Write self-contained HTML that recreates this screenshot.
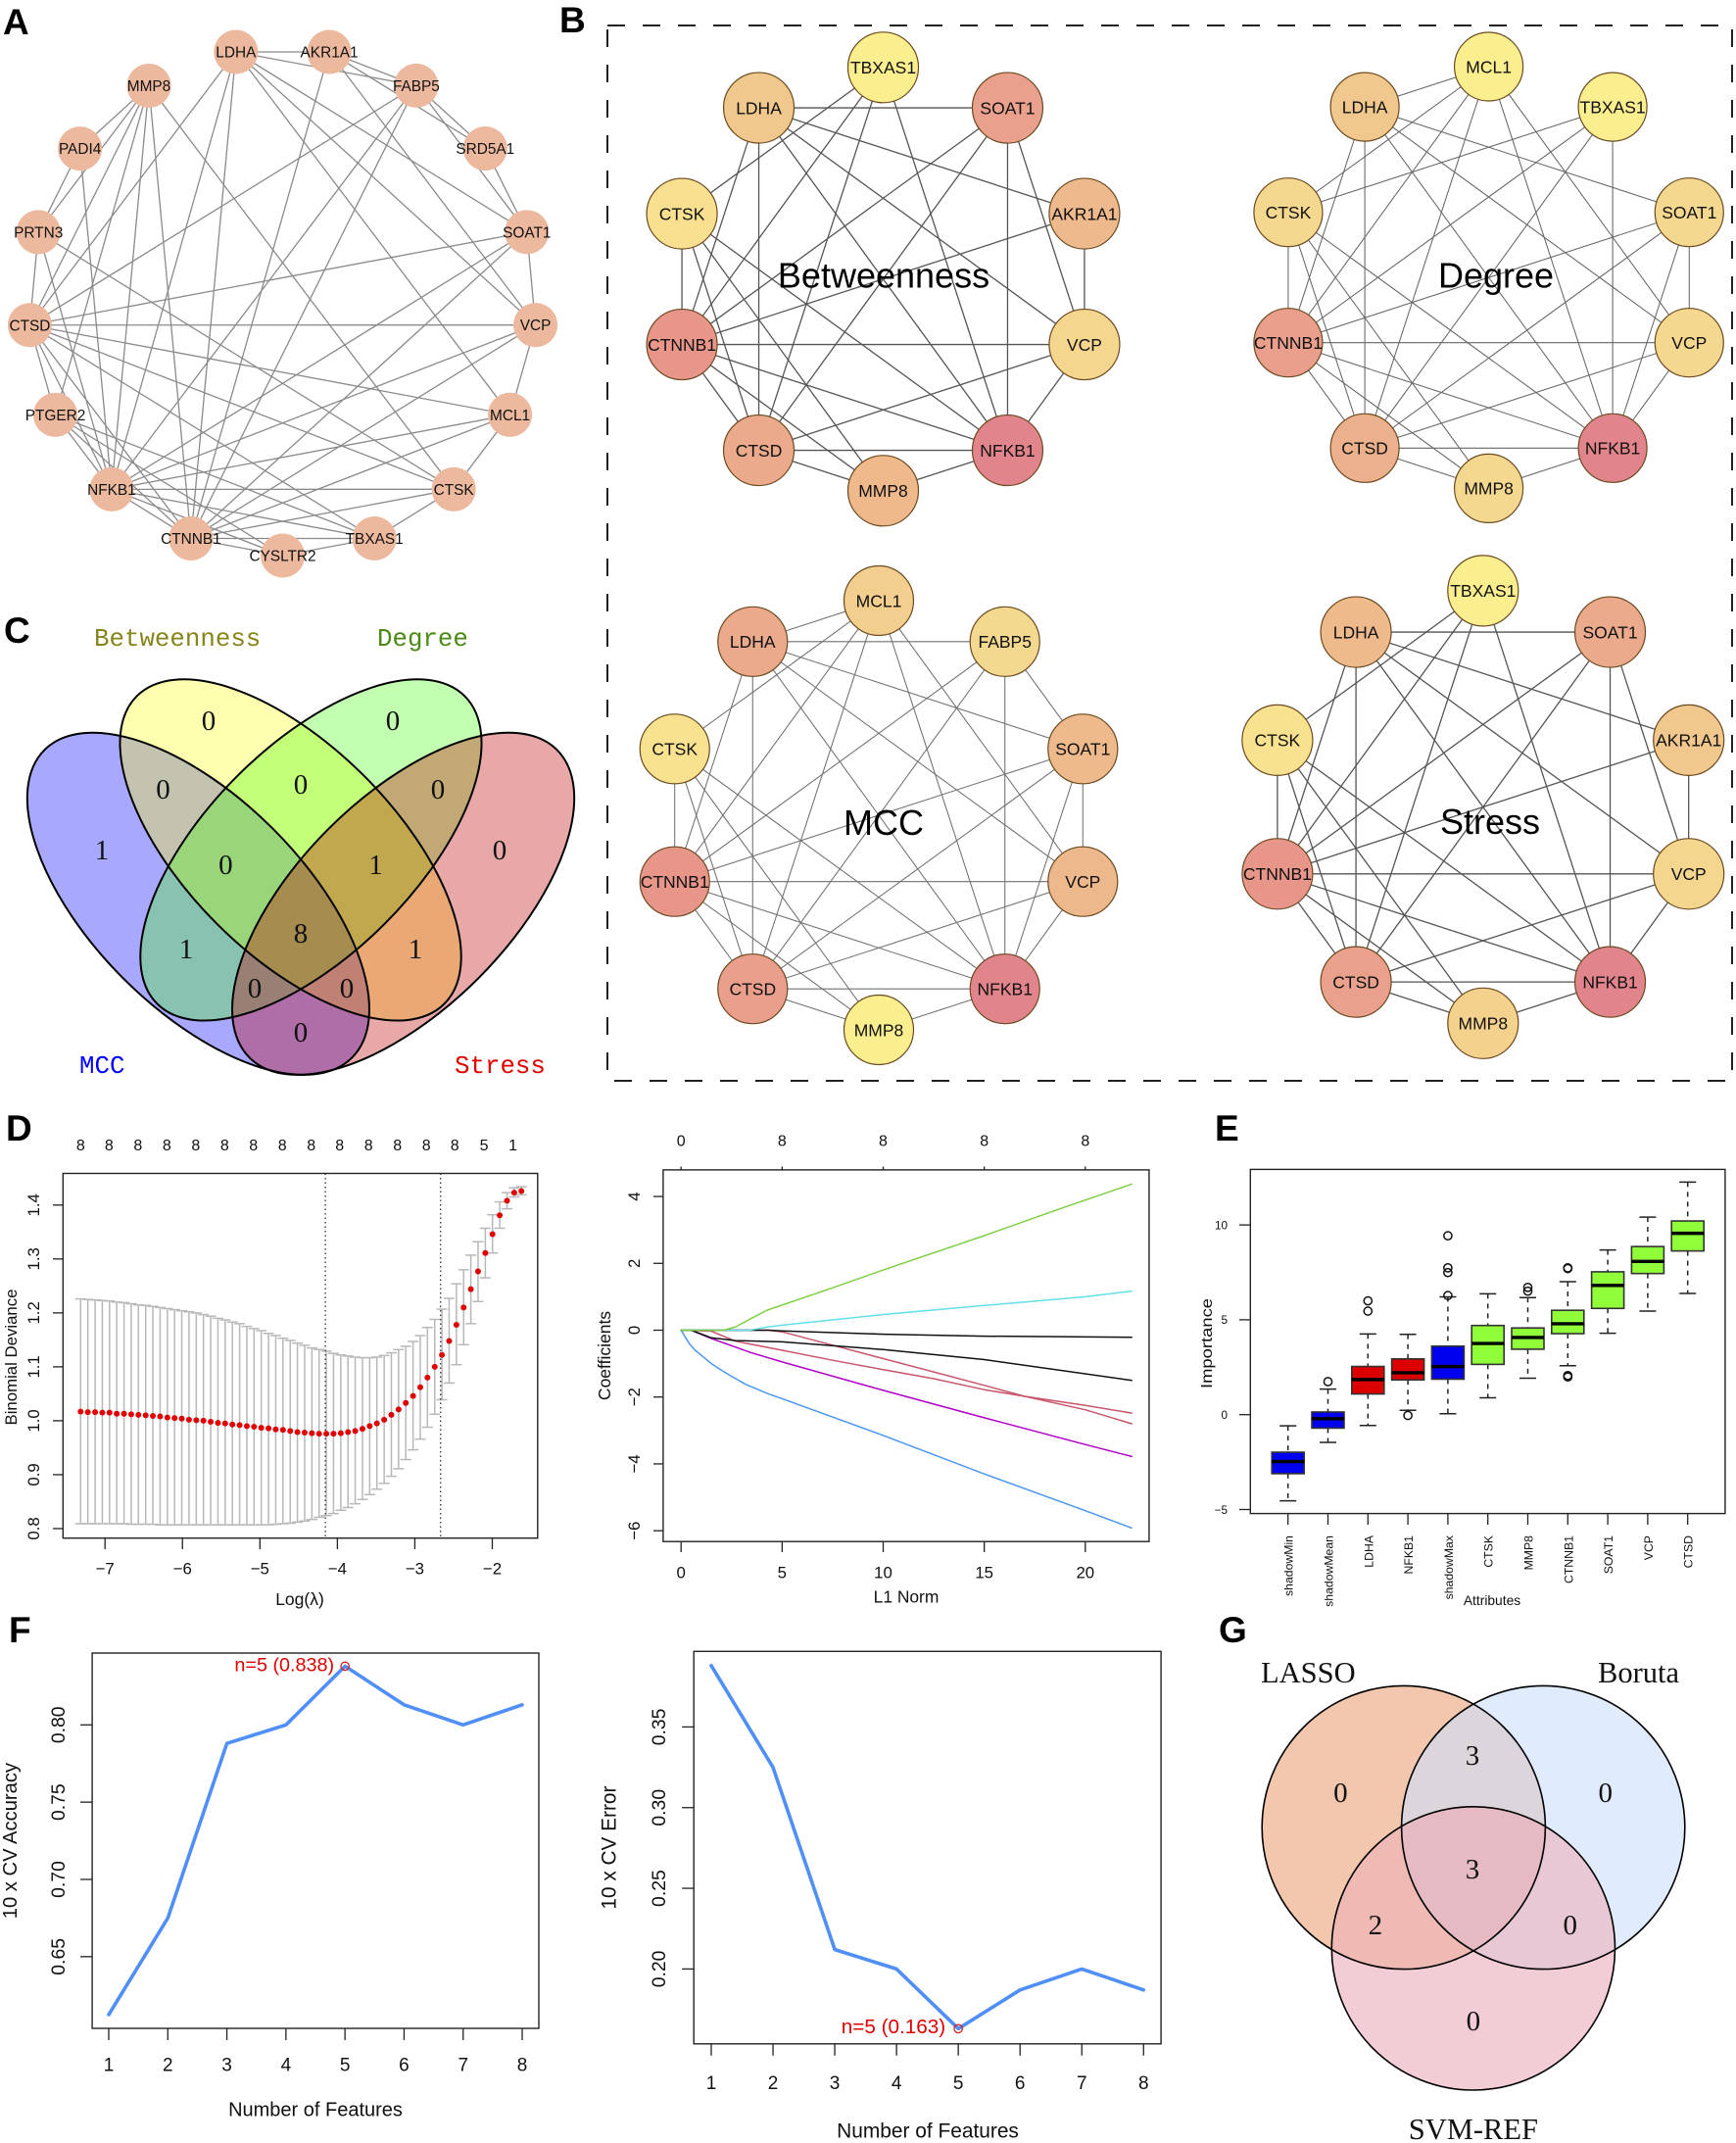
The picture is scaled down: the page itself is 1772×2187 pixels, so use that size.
<!DOCTYPE html>
<html lang="en">
<head>
<meta charset="utf-8">
<title>Hub gene network and feature selection figure</title>
<style>
html,body{margin:0;padding:0;background:#fff;}
svg{display:block;}
text{font-family:"Liberation Sans",Arial,sans-serif;fill:#111;}
.letter{font-size:37px;font-weight:bold;fill:#000;}
.vc{font-family:"Liberation Serif",serif;font-size:29px;text-anchor:middle;fill:#111;}
.vl{font-family:"Liberation Mono",monospace;font-size:25.8px;}
.vg{font-family:"Liberation Serif",serif;font-size:29px;text-anchor:middle;fill:#111;}
.vt{font-family:"Liberation Serif",serif;font-size:30.5px;fill:#111;}
</style>
</head>
<body>
<svg id="figure" xmlns="http://www.w3.org/2000/svg" width="1772" height="2187" viewBox="0 0 1772 2187">
<rect x="0" y="0" width="1772" height="2187" fill="#fff"/>
<text class="letter" x="3" y="35">A</text>
<text class="letter" x="571" y="33">B</text>
<text class="letter" x="4" y="656">C</text>
<text class="letter" x="6" y="1164">D</text>
<text class="letter" x="1240" y="1164">E</text>
<text class="letter" x="9" y="1676">F</text>
<text class="letter" x="1244" y="1676">G</text>

<rect x="620" y="26" width="1148" height="1077" fill="none" stroke="#222" stroke-width="2" stroke-dasharray="18 18"/>

<g id="panelA"></g>
<g id="panelB1"></g>
<g id="panelB2"></g>
<g id="panelB3"></g>
<g id="panelB4"></g>

<g>
  <ellipse cx="202.4" cy="922.3" rx="222" ry="108" transform="rotate(45 202.4 922.3)" fill="rgb(0,0,255)" fill-opacity=".34"/>
  <ellipse cx="296.6" cy="867.4" rx="222" ry="106.5" transform="rotate(45 296.6 867.4)" fill="rgb(255,255,0)" fill-opacity=".31"/>
  <ellipse cx="317.4" cy="867.4" rx="222" ry="106.5" transform="rotate(-45 317.4 867.4)" fill="rgb(60,255,0)" fill-opacity=".31"/>
  <ellipse cx="411.6" cy="922.3" rx="222" ry="108" transform="rotate(-45 411.6 922.3)" fill="rgb(190,0,0)" fill-opacity=".34"/>
  <g fill="none" stroke="#000" stroke-width="2">
    <ellipse cx="202.4" cy="922.3" rx="222" ry="108" transform="rotate(45 202.4 922.3)"/>
    <ellipse cx="296.6" cy="867.4" rx="222" ry="106.5" transform="rotate(45 296.6 867.4)"/>
    <ellipse cx="317.4" cy="867.4" rx="222" ry="106.5" transform="rotate(-45 317.4 867.4)"/>
    <ellipse cx="411.6" cy="922.3" rx="222" ry="108" transform="rotate(-45 411.6 922.3)"/>
  </g>
  <text class="vl" x="96" y="659" style="fill:#85851c">Betweenness</text>
  <text class="vl" x="385" y="659" style="fill:#4a8a14">Degree</text>
  <text class="vl" x="81" y="1095" style="fill:#0000ff">MCC</text>
  <text class="vl" x="464" y="1095" style="fill:#e00000">Stress</text>
  <text class="vc" x="213" y="745">0</text>
  <text class="vc" x="401" y="745">0</text>
  <text class="vc" x="307" y="810">0</text>
  <text class="vc" x="166.5" y="815">0</text>
  <text class="vc" x="447" y="815">0</text>
  <text class="vc" x="104" y="877">1</text>
  <text class="vc" x="510" y="877">0</text>
  <text class="vc" x="230.4" y="892">0</text>
  <text class="vc" x="383.5" y="892">1</text>
  <text class="vc" x="307" y="962">8</text>
  <text class="vc" x="190" y="978">1</text>
  <text class="vc" x="424" y="978">1</text>
  <text class="vc" x="260" y="1018">0</text>
  <text class="vc" x="354" y="1018">0</text>
  <text class="vc" x="307" y="1063">0</text>
</g>

<g id="panelD1"></g>
<g id="panelD2"></g>
<g id="panelE"></g>
<g id="panelF1"></g>
<g id="panelF2"></g>

<defs>
  <clipPath id="clipLasso"><circle cx="1432.8" cy="1865" r="144.6"/></clipPath>
  <clipPath id="clipBoruta"><circle cx="1575.2" cy="1865" r="144.6"/></clipPath>
  <clipPath id="clipSvm"><circle cx="1503.9" cy="1988.4" r="144.6"/></clipPath>
</defs>
<g>
  <circle cx="1432.8" cy="1865" r="144.6" fill="#f2c7ae"/>
  <circle cx="1575.2" cy="1865" r="144.6" fill="#e0ebfd"/>
  <circle cx="1503.9" cy="1988.4" r="144.6" fill="#f3cdd5"/>
  <circle cx="1432.8" cy="1865" r="144.6" fill="#ddd5dc" clip-path="url(#clipBoruta)"/>
  <circle cx="1432.8" cy="1865" r="144.6" fill="#efb9b4" clip-path="url(#clipSvm)"/>
  <circle cx="1575.2" cy="1865" r="144.6" fill="#e8c8d4" clip-path="url(#clipSvm)"/>
  <g clip-path="url(#clipSvm)"><circle cx="1432.8" cy="1865" r="144.6" fill="#e6bac3" clip-path="url(#clipBoruta)"/></g>
  <g fill="none" stroke="#000" stroke-width="1.6">
    <circle cx="1432.8" cy="1865" r="144.6"/>
    <circle cx="1575.2" cy="1865" r="144.6"/>
    <circle cx="1503.9" cy="1988.4" r="144.6"/>
  </g>
  <text class="vt" x="1287" y="1717">LASSO</text>
  <text class="vt" x="1631" y="1717">Boruta</text>
  <text class="vt" x="1503.9" y="2183" text-anchor="middle">SVM-REF</text>
  <text class="vg" x="1503" y="1801">3</text>
  <text class="vg" x="1368.4" y="1839">0</text>
  <text class="vg" x="1638.7" y="1839">0</text>
  <text class="vg" x="1503" y="1917">3</text>
  <text class="vg" x="1403.9" y="1974">2</text>
  <text class="vg" x="1602.8" y="1974">0</text>
  <text class="vg" x="1503.9" y="2072">0</text>
</g>
</svg>

<script>
/* ---------- Network data ---------- */
const netANodes = ['LDHA','AKR1A1','FABP5','SRD5A1','SOAT1','VCP','MCL1','CTSK','TBXAS1','CYSLTR2','CTNNB1','NFKB1','PTGER2','CTSD','PRTN3','PADI4','MMP8'];
const netAEdges = 'LDHA-AKR1A1 LDHA-FABP5 LDHA-SOAT1 LDHA-VCP LDHA-MCL1 LDHA-CTSD LDHA-NFKB1 LDHA-CTNNB1 AKR1A1-SRD5A1 AKR1A1-VCP AKR1A1-CTNNB1 AKR1A1-FABP5 FABP5-CTSD FABP5-NFKB1 FABP5-CTNNB1 FABP5-SRD5A1 FABP5-SOAT1 SRD5A1-SOAT1 SOAT1-VCP SOAT1-CTSD SOAT1-NFKB1 SOAT1-CTNNB1 VCP-MCL1 VCP-CTSD VCP-NFKB1 VCP-CTNNB1 MCL1-CTSK MCL1-CTSD MCL1-NFKB1 MCL1-CTNNB1 CTSK-TBXAS1 CTSK-NFKB1 CTSK-CTNNB1 CTSK-CTSD CTSK-MMP8 CTSK-PRTN3 TBXAS1-CTNNB1 TBXAS1-CYSLTR2 TBXAS1-NFKB1 TBXAS1-CTSD TBXAS1-PTGER2 CYSLTR2-CTNNB1 CYSLTR2-NFKB1 CYSLTR2-PTGER2 CTNNB1-NFKB1 CTNNB1-PTGER2 CTNNB1-CTSD CTNNB1-MMP8 NFKB1-PTGER2 NFKB1-CTSD NFKB1-PRTN3 NFKB1-PADI4 NFKB1-MMP8 PTGER2-MMP8 PTGER2-CTSD CTSD-PRTN3 CTSD-MMP8 PRTN3-PADI4 PRTN3-MMP8 PADI4-MMP8'.split(' ');

const betweennessNodes = ['TBXAS1','SOAT1','AKR1A1','VCP','NFKB1','MMP8','CTSD','CTNNB1','CTSK','LDHA'];
const betweennessColors = ['#fbee8f','#e9a08c','#eeb98c','#f5d68e','#e2848b','#efb98b','#ebaa8b','#e8958a','#f8e090','#f0c78c'];
const betweennessEdges = 'LDHA-SOAT1 LDHA-CTNNB1 LDHA-CTSD LDHA-AKR1A1 LDHA-VCP LDHA-NFKB1 TBXAS1-CTSK TBXAS1-CTNNB1 TBXAS1-CTSD TBXAS1-NFKB1 SOAT1-CTNNB1 SOAT1-CTSD SOAT1-NFKB1 SOAT1-VCP AKR1A1-VCP AKR1A1-CTNNB1 CTSK-CTNNB1 CTSK-CTSD CTSK-MMP8 CTSK-NFKB1 CTNNB1-VCP CTNNB1-CTSD CTNNB1-MMP8 CTNNB1-NFKB1 VCP-CTSD VCP-NFKB1 CTSD-NFKB1 CTSD-MMP8 NFKB1-MMP8'.split(' ');

const degreeNodes = ['MCL1','TBXAS1','SOAT1','VCP','NFKB1','MMP8','CTSD','CTNNB1','CTSK','LDHA'];
const degreeColors = ['#fbee8f','#fbee8f','#f5d88f','#f5d88f','#e2848b','#f5d88f','#ebb08c','#e99f8c','#f5d88f','#f0c78c'];
const degreeEdges = 'LDHA-MCL1 LDHA-CTNNB1 LDHA-CTSD LDHA-SOAT1 LDHA-VCP LDHA-NFKB1 MCL1-CTSK MCL1-CTNNB1 MCL1-CTSD MCL1-NFKB1 MCL1-VCP TBXAS1-CTSK TBXAS1-CTNNB1 TBXAS1-CTSD TBXAS1-NFKB1 SOAT1-CTNNB1 SOAT1-CTSD SOAT1-VCP SOAT1-NFKB1 CTSK-CTNNB1 CTSK-CTSD CTSK-MMP8 CTSK-NFKB1 CTNNB1-VCP CTNNB1-CTSD CTNNB1-MMP8 CTNNB1-NFKB1 VCP-CTSD VCP-NFKB1 CTSD-NFKB1 CTSD-MMP8 NFKB1-MMP8'.split(' ');

const mccNodes = ['MCL1','FABP5','SOAT1','VCP','NFKB1','MMP8','CTSD','CTNNB1','CTSK','LDHA'];
const mccColors = ['#f2cf8e','#f3d88f','#eeba8c','#edb88b','#e2848b','#fbee8f','#e99f8c','#e8958a','#f8e290','#eaaa8b'];
const mccEdges = 'LDHA-MCL1 LDHA-FABP5 LDHA-CTNNB1 LDHA-CTSD LDHA-SOAT1 LDHA-VCP LDHA-NFKB1 MCL1-CTSK MCL1-CTNNB1 MCL1-CTSD MCL1-VCP MCL1-NFKB1 FABP5-SOAT1 FABP5-CTNNB1 FABP5-CTSD FABP5-NFKB1 SOAT1-CTNNB1 SOAT1-CTSD SOAT1-VCP SOAT1-NFKB1 CTSK-CTNNB1 CTSK-CTSD CTSK-MMP8 CTSK-NFKB1 CTNNB1-VCP CTNNB1-CTSD CTNNB1-MMP8 CTNNB1-NFKB1 VCP-CTSD VCP-NFKB1 CTSD-NFKB1 CTSD-MMP8 NFKB1-MMP8'.split(' ');

const stressNodes = ['TBXAS1','SOAT1','AKR1A1','VCP','NFKB1','MMP8','CTSD','CTNNB1','CTSK','LDHA'];
const stressColors = ['#fbee8f','#ebaa8b','#f0c78c','#f5d68e','#e2848b','#f4d28d','#e9a08c','#e8958a','#f8e290','#eeba8c'];
const stressEdges = betweennessEdges.slice();

/* ---------- Panel D left: cross-validation deviance ---------- */
const logLambda = [-7.315,-7.222,-7.128,-7.035,-6.942,-6.849,-6.755,-6.662,-6.569,-6.475,-6.382,-6.289,-6.195,-6.102,-6.009,-5.916,-5.822,-5.729,-5.636,-5.542,-5.449,-5.356,-5.262,-5.169,-5.076,-4.983,-4.889,-4.796,-4.703,-4.609,-4.516,-4.423,-4.329,-4.236,-4.143,-4.050,-3.956,-3.863,-3.770,-3.676,-3.583,-3.490,-3.396,-3.303,-3.210,-3.117,-3.023,-2.930,-2.837,-2.743,-2.650,-2.557,-2.463,-2.370,-2.277,-2.184,-2.090,-1.997,-1.904,-1.810,-1.717,-1.624];
const devianceMean = [1.017,1.016,1.016,1.015,1.015,1.013,1.013,1.012,1.011,1.010,1.009,1.008,1.006,1.005,1.004,1.002,1.001,1.000,.998,.996,.995,.993,.992,.990,.989,.987,.986,.984,.983,.981,.979,.978,.977,.976,.976,.976,.977,.979,.981,.985,.990,.995,1.002,1.011,1.021,1.033,1.046,1.062,1.080,1.100,1.122,1.148,1.178,1.210,1.244,1.277,1.311,1.346,1.381,1.408,1.423,1.426];
const devianceUpper = [1.226,1.225,1.224,1.223,1.222,1.220,1.219,1.217,1.215,1.214,1.212,1.210,1.208,1.206,1.204,1.202,1.200,1.197,1.194,1.190,1.187,1.183,1.180,1.175,1.171,1.167,1.162,1.158,1.153,1.149,1.144,1.140,1.135,1.132,1.129,1.125,1.122,1.120,1.118,1.117,1.117,1.118,1.121,1.126,1.132,1.138,1.147,1.158,1.173,1.188,1.207,1.227,1.254,1.280,1.307,1.332,1.357,1.382,1.406,1.423,1.432,1.434];
const devianceLower = [.809,.809,.809,.809,.809,.809,.809,.808,.808,.808,.808,.807,.807,.807,.807,.807,.807,.807,.807,.807,.807,.807,.807,.807,.807,.807,.807,.808,.809,.810,.812,.814,.817,.821,.824,.828,.834,.839,.846,.854,.863,.873,.884,.897,.911,.928,.946,.966,.988,1.012,1.039,1.070,1.104,1.141,1.180,1.221,1.265,1.311,1.357,1.393,1.415,1.419];
const lambdaLines = [-4.155,-2.667];
const devXTicks = [-7,-6,-5,-4,-3,-2];
const devYTicks = [0.8,0.9,1.0,1.1,1.2,1.3,1.4];
const devTopAt = [-7.315,-6.947,-6.574,-6.201,-5.829,-5.456,-5.083,-4.711,-4.338,-3.970,-3.597,-3.225,-2.852,-2.484,-2.107,-1.734];
const devTopLabels = ['8','8','8','8','8','8','8','8','8','8','8','8','8','8','5','1'];

/* ---------- Panel D right: coefficient paths (L1 norm, coefficient) ---------- */
const coefGreen = [[0,0],[2.1,0],[2.7,.1],[3.5,.36],[4.27,.6],[7.4,1.25],[10,1.8],[15,2.83],[18.6,3.6],[22.3,4.37]];
const coefCyan = [[0,0],[3.4,0],[4.3,.1],[5,.15],[10,.47],[15,.74],[20,1.0],[22.3,1.17]];
const coefBlackA = [[0,0],[4.3,0],[5,-.02],[10,-.12],[15,-.18],[22.3,-.21]];
const coefBlackB = [[0,0],[.5,0],[1.5,-.23],[2.7,-.31],[5,-.35],[10,-.58],[15,-.88],[22.3,-1.5]];
const coefRedA = [[0,0],[4.3,0],[5,-.05],[7.5,-.45],[10,-.85],[12.5,-1.25],[15,-1.65],[17,-1.98],[20,-2.38],[22.3,-2.8]];
const coefRedB = [[0,0],[1.5,-.03],[2.7,-.33],[5,-.6],[7.5,-.9],[10,-1.18],[12.5,-1.45],[15,-1.78],[17,-1.98],[20,-2.25],[22.3,-2.48]];
const coefMagenta = [[0,0],[.5,0],[1.5,-.25],[3.5,-.68],[5,-.95],[10,-1.8],[15,-2.62],[20,-3.42],[22.3,-3.78]];
const coefBlue = [[0,0],[.2,-.2],[.4,-.4],[.7,-.6],[1,-.75],[1.5,-1.0],[2,-1.2],[2.5,-1.38],[3.2,-1.62],[4.3,-1.9],[5,-2.05],[10,-3.15],[15,-4.3],[20,-5.4],[22.3,-5.92]];
const coefXTicks = [0,5,10,15,20];
const coefYTicks = [-6,-4,-2,0,2,4];
const coefTopLabels = ['0','8','8','8','8'];

/* ---------- Panel E: Boruta importance ---------- */
const boxLabels = ['shadowMin','shadowMean','LDHA','NFKB1','shadowMax','CTSK','MMP8','CTNNB1','SOAT1','VCP','CTSD'];
const boxFate = ['s','s','r','r','s','c','c','c','c','c','c'];
const whiskerHigh = [-.59,1.35,4.25,4.23,6.21,6.37,6.17,7.01,8.68,10.41,12.26];
const boxTop = [-1.98,.14,2.54,2.94,3.61,4.7,4.57,5.5,7.53,8.86,10.21];
const boxMedian = [-2.47,-.21,1.85,2.21,2.54,3.75,4.07,4.79,6.81,8.08,9.56];
const boxBottom = [-3.11,-.71,1.09,1.83,1.87,2.65,3.45,4.27,5.6,7.44,8.63];
const whiskerLow = [-4.54,-1.46,-.57,.23,.05,.89,1.92,2.58,4.29,5.46,6.39];
const boxOutliers = [[],[1.74],[6.0,5.46],[-.04],[9.43,7.74,7.49,6.28],[],[6.71,6.51],[7.74,7.7,2.06,1.99],[],[],[]];
const boxYTicks = [-5,0,5,10];

/* ---------- Panel F: SVM-RFE ---------- */
const featureCounts = [1,2,3,4,5,6,7,8];
const cvAccuracy = [.6125,.675,.788,.80,.838,.813,.80,.813];
const cvError = [.388,.325,.212,.20,.163,.187,.20,.187];
const accuracyTicks = ['0.65','0.70','0.75','0.80'];
const errorTicks = ['0.20','0.25','0.30','0.35'];
const bestFeatures = 5;

/* ---------- Drawing helpers ---------- */
const NS = 'http://www.w3.org/2000/svg';
function mk(tag, attrs, parent) {
  const e = document.createElementNS(NS, tag);
  for (const k in attrs) e.setAttribute(k, attrs[k]);
  parent.appendChild(e);
  return e;
}
function txt(parent, name, x, y, str, size, anchor, rot, fill) {
  const t = mk('text', {x: x, y: y, 'font-size': size, 'text-anchor': anchor || 'middle'}, parent);
  
  
  if (rot) t.setAttribute('transform', 'rotate(' + rot + ' ' + x + ' ' + y + ')');
  if (fill) t.style.fill = fill;
  t.textContent = str;
  return t;
}
function seg(parent, name, x1, y1, x2, y2, stroke, w, dash) {
  const l = mk('line', {x1: x1, y1: y1, x2: x2, y2: y2, stroke: stroke, 'stroke-width': w}, parent);
  
  
  if (dash) l.setAttribute('stroke-dasharray', dash);
  return l;
}
function frame(parent, name, x1, y1, x2, y2) {
  const r = mk('rect', {x: x1, y: y1, width: x2 - x1, height: y2 - y1, fill: 'none', stroke: '#222', 'stroke-width': 1.4}, parent);
  
  
  return r;
}
function poly(parent, name, pts, stroke, w) {
  const p = mk('polyline', {points: pts.map(q => q[0].toFixed(1) + ',' + q[1].toFixed(1)).join(' '), fill: 'none', stroke: stroke, 'stroke-width': w, 'stroke-linejoin': 'round', 'stroke-linecap': 'round'}, parent);
  
  
  return p;
}

function drawNetwork(id, nodes, colors, edges, cx, cy, R, r, startDeg, edgeColor, edgeW, nodeStroke, fontSize, title, titleX, titleY) {
  const g = document.getElementById(id);
  const pos = {};
  nodes.forEach((n, i) => {
    const a = (startDeg + i * 360 / nodes.length) * Math.PI / 180;
    pos[n] = [cx + R * Math.cos(a), cy + R * Math.sin(a)];
  });
  edges.forEach(e => {
    const p = e.split('-');
    seg(g, 'network-edge', pos[p[0]][0], pos[p[0]][1], pos[p[1]][0], pos[p[1]][1], edgeColor, edgeW);
  });
  nodes.forEach((n, i) => {
    const c = mk('circle', {cx: pos[n][0], cy: pos[n][1], r: r, fill: Array.isArray(colors) ? colors[i] : colors}, g);
    
    
    if (nodeStroke) {
      c.setAttribute('stroke', nodeStroke);
      c.setAttribute('stroke-width', '1.2');
    }
  });
  nodes.forEach(n => {
    txt(g, 'node-label-' + n.toLowerCase(), pos[n][0], pos[n][1] + fontSize * .36, n, fontSize);
  });
  if (title) txt(g, 'network-title', titleX, titleY, title, 36, 'middle', 0, '#000');
}

drawNetwork('panelA', netANodes, '#edb99e', netAEdges, 288.5, 307.8, 259.2, 22.5, -100.6, '#8a8a8a', 1.3, null, 15.4);
drawNetwork('panelB1', betweennessNodes, betweennessColors, betweennessEdges, 901.5, 284.8, 216, 36, -90, '#555', 1.3, '#6b4a20', 17.5, 'Betweenness', 902, 293.6);
drawNetwork('panelB2', degreeNodes, degreeColors, degreeEdges, 1519.6, 283.2, 215.2, 35, -90, '#666', 1.05, '#6b4a20', 17.5, 'Degree', 1527, 293.6);
drawNetwork('panelB3', mccNodes, mccColors, mccEdges, 897, 832, 219, 35.5, -90, '#707070', 1.05, '#6b4a20', 17.5, 'MCC', 902, 851.8);
drawNetwork('panelB4', stressNodes, stressColors, stressEdges, 1513.8, 823.6, 220.7, 36, -90, '#555', 1.3, '#6b4a20', 17.5, 'Stress', 1521, 851);

/* ---------- Panel D left ---------- */
(function () {
  const g = document.getElementById('panelD1');
  const x = v => 107.2 + (v + 7) * 79.06;
  const y = v => 1229.8 + (1.4 - v) * 550.3;
  logLambda.forEach((l, i) => {
    const px = x(l);
    seg(g, 'error-bar', px, y(devianceUpper[i]), px, y(devianceLower[i]), '#b8b8b8', 1.5);
    seg(g, 'error-cap-upper', px - 5.5, y(devianceUpper[i]), px + 5.5, y(devianceUpper[i]), '#b8b8b8', 1.5);
    seg(g, 'error-cap-lower', px - 5.5, y(devianceLower[i]), px + 5.5, y(devianceLower[i]), '#b8b8b8', 1.5);
  });
  lambdaLines.forEach(l => {
    seg(g, 'lambda-reference-line', x(l), 1197.5, x(l), 1569.7, '#222', 1.2, '1.5 3');
  });
  logLambda.forEach((l, i) => {
    const c = mk('circle', {cx: x(l), cy: y(devianceMean[i]), r: 3, fill: '#e00000'}, g);
    
    
  });
  frame(g, 'plot-frame', 64.3, 1197.5, 548.8, 1569.7);
  devXTicks.forEach(t => {
    seg(g, 'x-tick', x(t), 1569.7, x(t), 1581, '#222', 1.3);
    txt(g, 'x-tick-label', x(t), 1606.6, '\u2212' + Math.abs(t), 16.8);
  });
  devYTicks.forEach(t => {
    seg(g, 'y-tick', 54, y(t), 64.3, y(t), '#222', 1.3);
    txt(g, 'y-tick-label', 40, y(t), t.toFixed(1), 16.8, 'middle', -90);
  });
  devTopAt.forEach((v, i) => {
    txt(g, 'top-df-label', x(v), 1174, devTopLabels[i], 16);
  });
  txt(g, 'y-axis-title', 17, 1385, 'Binomial Deviance', 16.8, 'middle', -90);
  txt(g, 'x-axis-title', 306, 1638, 'Log(\u03BB)', 17.5);
})();

/* ---------- Panel D right ---------- */
(function () {
  const g = document.getElementById('panelD2');
  const x = v => 695.2 + v * 20.63;
  const y = v => 1357.5 - v * 34.11;
  const series = [[coefBlue, '#4a98ef', 'path-blue'], [coefMagenta, '#b000c8', 'path-magenta'], [coefRedA, '#c9566a', 'path-red-a'], [coefRedB, '#c9566a', 'path-red-b'], [coefBlackA, '#111', 'path-black-a'], [coefBlackB, '#111', 'path-black-b'], [coefCyan, '#62e0e8', 'path-cyan'], [coefGreen, '#7fcf45', 'path-green']];
  series.forEach(s => {
    poly(g, s[2], s[0].map(p => [x(p[0]), y(p[1])]), s[1], 1.5);
  });
  frame(g, 'plot-frame', 676.9, 1193.9, 1172.9, 1573.2);
  coefXTicks.forEach((t, i) => {
    seg(g, 'x-tick', x(t), 1573.2, x(t), 1584, '#222', 1.3);
    seg(g, 'top-tick', x(t), 1193.9, x(t), 1190.5, '#222', 1.3);
    txt(g, 'x-tick-label', x(t), 1610.7, String(t), 16.8);
    txt(g, 'top-df-label', x(t), 1169.5, coefTopLabels[i], 16);
  });
  coefYTicks.forEach(t => {
    seg(g, 'y-tick', 667, y(t), 676.9, y(t), '#222', 1.3);
    txt(g, 'y-tick-label', 653, y(t), t < 0 ? '\u2212' + Math.abs(t) : String(t), 16.8, 'middle', -90);
  });
  txt(g, 'y-axis-title', 623, 1383.5, 'Coefficients', 17.5, 'middle', -90);
  txt(g, 'x-axis-title', 925, 1635.4, 'L1 Norm', 17.4);
})();

/* ---------- Panel E ---------- */
(function () {
  const g = document.getElementById('panelE');
  const x = i => 1314.7 + i * 40.8;
  const y = v => 1443.7 - v * 19.36;
  const fill = {s: '#0000ee', r: '#dd0000', c: '#90ff3a'};
  boxLabels.forEach((lab, i) => {
    const px = x(i);
    seg(g, 'whisker-upper', px, y(whiskerHigh[i]), px, y(boxTop[i]), '#222', 1.5, '5 5');
    seg(g, 'whisker-lower', px, y(boxBottom[i]), px, y(whiskerLow[i]), '#222', 1.5, '5 5');
    seg(g, 'whisker-cap-upper', px - 8.5, y(whiskerHigh[i]), px + 8.5, y(whiskerHigh[i]), '#222', 1.5);
    seg(g, 'whisker-cap-lower', px - 8.5, y(whiskerLow[i]), px + 8.5, y(whiskerLow[i]), '#222', 1.5);
    const b = mk('rect', {x: px - 16.5, y: y(boxTop[i]), width: 33, height: y(boxBottom[i]) - y(boxTop[i]), fill: fill[boxFate[i]], stroke: '#333', 'stroke-width': 1.6}, g);
    
    
    seg(g, 'box-median', px - 16.5, y(boxMedian[i]), px + 16.5, y(boxMedian[i]), '#000', 3.4);
    boxOutliers[i].forEach(v => {
      const c = mk('circle', {cx: px, cy: y(v), r: 4.1, fill: 'none', stroke: '#111', 'stroke-width': 1.5}, g);
      
      
    });
    seg(g, 'x-tick', px, 1544.6, px, 1556, '#222', 1.3);
    txt(g, 'x-tick-label', px + 5, 1567, lab, 12.25, 'end', -90);
  });
  frame(g, 'plot-frame', 1276.3, 1193.4, 1760.9, 1544.6);
  boxYTicks.forEach(t => {
    seg(g, 'y-tick', 1265, y(t), 1276.3, y(t), '#222', 1.3);
    txt(g, 'y-tick-label', 1253, y(t) + 4.3, t < 0 ? '\u2212' + Math.abs(t) : String(t), 11.7, 'end');
  });
  const yl = txt(g, 'y-axis-title', 1237, 1371, 'Importance', 16, 'middle', -90);
  yl.setAttribute('textLength', '92');
  yl.setAttribute('lengthAdjust', 'spacingAndGlyphs');
  txt(g, 'x-axis-title', 1523, 1638, 'Attributes', 13.8);
})();

/* ---------- Panel F ---------- */
function drawCurve(id, values, tickLabels, x, y, box, c) {
  const g = document.getElementById(id);
  poly(g, 'cv-curve', featureCounts.map((n, i) => [x(n), y(values[i])]), '#4f8ff7', 3.6);
  frame(g, 'plot-frame', box[0], box[1], box[2], box[3]);
  featureCounts.forEach(n => {
    seg(g, 'x-tick', x(n), box[3], x(n), box[3] + 12, '#222', 1.3);
    txt(g, 'x-tick-label', x(n), c.xTickBase, String(n), 19);
  });
  tickLabels.forEach(t => {
    const v = parseFloat(t);
    seg(g, 'y-tick', box[0] - 12, y(v), box[0], y(v), '#222', 1.3);
    txt(g, 'y-tick-label', c.yTickBase, y(v), t, 19.4, 'middle', -90);
  });
  txt(g, 'y-axis-title', c.yTitleBase, c.yTitleMid, c.yTitle, c.yTitleSize, 'middle', -90);
  txt(g, 'x-axis-title', c.xTitleMid, c.xTitleBase, 'Number of Features', c.xTitleSize);
  const bi = featureCounts.indexOf(bestFeatures);
  const m = mk('circle', {cx: x(bestFeatures), cy: y(values[bi]), r: 4.2, fill: 'none', stroke: '#d81e1e', 'stroke-width': 1.3}, g);
  
  
  txt(g, 'best-feature-label', x(bestFeatures) + c.noteDx, y(values[bi]) + c.noteDy, 'n=' + bestFeatures + ' (' + values[bi].toFixed(3) + ')', c.noteSize, 'end', 0, '#e00000');
}
drawCurve('panelF1', cvAccuracy, accuracyTicks, n => 111 + (n - 1) * 60.29, v => 1760.3 + (.8 - v) * 1577, [94.1, 1687, 550, 2070], {
  xTickBase: 2113.7, yTickBase: 65.8, yTitleBase: 17, yTitleMid: 1878.6, yTitle: '10 x CV Accuracy', yTitleSize: 20.2, xTitleMid: 322, xTitleBase: 2159.7, xTitleSize: 20, noteDx: -11, noteDy: 5, noteSize: 19.8
});
drawCurve('panelF2', cvError, errorTicks, n => 726 + (n - 1) * 63.04, v => 1762.4 + (.35 - v) * 1646.7, [708.2, 1685.3, 1185.1, 2085.8], {
  xTickBase: 2131.8, yTickBase: 679, yTitleBase: 628.7, yTitleMid: 1885.6, yTitle: '10 x CV Error', yTitleSize: 20.8, xTitleMid: 947, xTitleBase: 2181.3, xTitleSize: 20.9, noteDx: -13, noteDy: 4.5, noteSize: 20.7
});
</script>
</body>
</html>
